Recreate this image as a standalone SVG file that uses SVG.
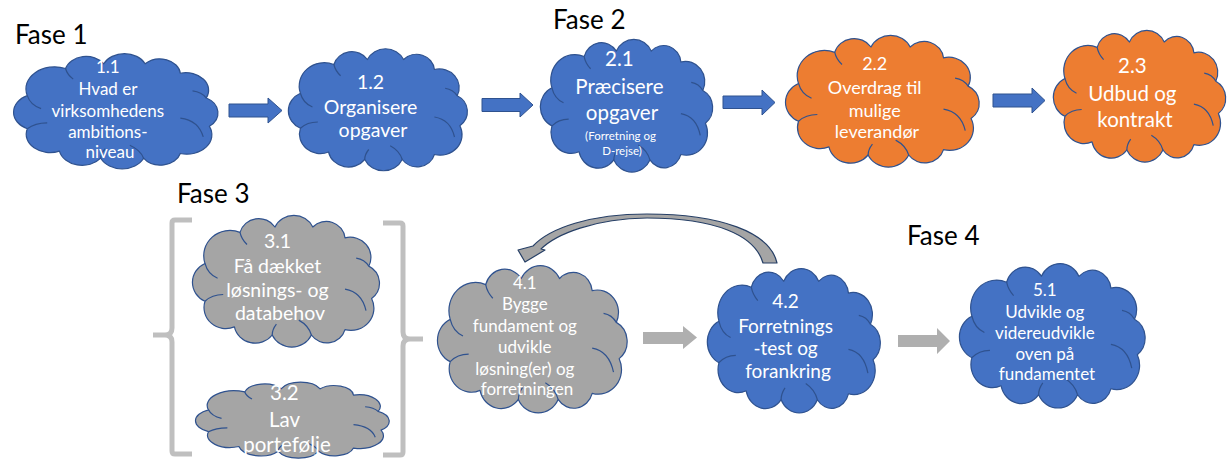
<svg xmlns="http://www.w3.org/2000/svg" xmlns:xlink="http://www.w3.org/1999/xlink" width="1231" height="462" viewBox="0 0 1231 462">
  <defs>
    <style>
      .phase { font-family: Lato, "Open Sans", "Liberation Sans", sans-serif; font-size: 26px; fill: #000; }
      .lbl { font-family: Lato, "Open Sans", "Liberation Sans", sans-serif; fill: #fff; text-anchor: middle; }
      .cloud-body { stroke: #2f528f; stroke-width: 1.2; stroke-linejoin: round; }
      .crease { fill: none; stroke: #2f528f; stroke-width: 1.2; }
      .blue { fill: #4472c4; }
      .orange { fill: #ed7d31; }
      .grey { fill: #a5a5a5; }
      .arrow-blue { fill: #4472c4; stroke: #2f528f; stroke-width: 1; }
      .arrow-grey { fill: #afafaf; }
      .bracket { fill: none; stroke: #bfbfbf; stroke-width: 5; stroke-linejoin: round; }
      .loop { fill: #a5a5a5; stroke: #263f66; stroke-width: 1.2; stroke-linejoin: round; }
    </style>
    <!-- cloud outline in a 140 x 100 unit box -->
    <path id="cloud-outline" vector-effect="non-scaling-stroke"
          d="M 10 37 A 18.7 18.7 0 0 1 35 14 A 13.9 13.9 0 0 1 60 10 A 14.9 14.9 0 0 1 87 10 A 13.4 13.4 0 0 1 110 18 A 14.9 14.9 0 0 1 127 39 A 14.3 14.3 0 0 1 129 63 A 16.4 16.4 0 0 1 110 86 A 13.4 13.4 0 0 1 86 90 A 15.4 15.4 0 0 1 58 90 A 15.2 15.2 0 0 1 31 84 A 15.6 15.6 0 0 1 10 65 A 15.4 15.4 0 0 1 10 37 Z"/>
    <g id="cloud-creases">
      <path class="crease" vector-effect="non-scaling-stroke" d="M 10 37 Q 12 45 19 48"/>
      <path class="crease" vector-effect="non-scaling-stroke" d="M 10 65 Q 15 60 23 60"/>
      <path class="crease" vector-effect="non-scaling-stroke" d="M 35 14 Q 36 19 40 23"/>
      <path class="crease" vector-effect="non-scaling-stroke" d="M 110 56 Q 122 58 125 72"/>
      <path class="crease" vector-effect="non-scaling-stroke" d="M 86 90 Q 84 83 77 79"/>
      <path class="crease" vector-effect="non-scaling-stroke" d="M 58 90 Q 58 86 61 82"/>
      <path class="crease" vector-effect="non-scaling-stroke" d="M 127 39 Q 124 34 118 33"/>
    </g>
  </defs>

  <rect width="1231" height="462" fill="#fff"/>

  <!-- phase headings -->
  <g id="phase-labels">
    <text class="phase" x="15" y="44">Fase 1</text>
    <text class="phase" x="553" y="29">Fase 2</text>
    <text class="phase" x="177" y="203">Fase 3</text>
    <text class="phase" x="907" y="245">Fase 4</text>
  </g>

  <!-- brackets around phase 3 -->
  <g id="phase3-brackets">
    <path class="bracket" d="M 192 220 L 175 220 Q 172 220 172 223 L 172 328 Q 172 335 165 335 L 153 335 M 165 335 Q 172 335 172 342 L 172 451 Q 172 454 175 454 L 192 454"/>
    <path class="bracket" d="M 383 223 L 400 223 Q 403 223 403 226 L 403 332 Q 403 339 410 339 L 423 339 M 410 339 Q 403 339 403 346 L 403 452 Q 403 455 400 455 L 383 455"/>
  </g>

  <!-- connectors -->
  <g id="connectors">
    <polygon class="arrow-blue" points="229,104 268,104 268,98 282,110.5 268,123 268,117 229,117"/>
    <polygon class="arrow-blue" points="482,98.5 520,98.5 520,93 533,105 520,117 520,111.5 482,111.5"/>
    <polygon class="arrow-blue" points="723,96 762,96 762,90 775,102.5 762,115 762,108.5 723,108.5"/>
    <polygon class="arrow-blue" points="993,94 1032,94 1032,88 1045,100.5 1032,113 1032,107 993,107"/>
    <polygon class="arrow-grey" points="643,332 683,332 683,326 697,337.5 683,349 683,344 643,344"/>
    <polygon class="arrow-grey" points="898,335 937,335 937,328 950,341 937,354 937,347 898,347"/>
    <path class="loop" d="M 777 263 C 770 232, 720 214, 647 214 C 590 214, 550 228, 533 246 L 518 250 L 525 262 L 545 250 L 541 249 C 556 234, 595 218.5, 647 218 C 715 218, 755 235, 763 263 Z"/>
  </g>

  <!-- 1.1 -->
  <g id="node-1-1">
    <g transform="translate(12 52) scale(1.53 1.18)">
      <use xlink:href="#cloud-outline" href="#cloud-outline" class="cloud-body blue"/>
      <use xlink:href="#cloud-creases" href="#cloud-creases"/>
    </g>
    <text class="lbl" font-size="17">
      <tspan x="110" y="73">1.1</tspan>
      <tspan x="110" y="95">Hvad er</tspan>
      <tspan x="110" y="117">virksomhedens</tspan>
      <tspan x="110" y="138">ambitions-</tspan>
      <tspan x="110" y="158">niveau</tspan>
    </text>
  </g>

  <!-- 1.2 -->
  <g id="node-1-2">
    <g transform="translate(287 47) scale(1.34 1.25)">
      <use xlink:href="#cloud-outline" href="#cloud-outline" class="cloud-body blue"/>
      <use xlink:href="#cloud-creases" href="#cloud-creases"/>
    </g>
    <text class="lbl" font-size="19.5">
      <tspan x="373" y="89">1.2</tspan>
      <tspan x="373" y="114">Organisere</tspan>
      <tspan x="373" y="137">opgaver</tspan>
    </text>
  </g>

  <!-- 2.1 -->
  <g id="node-2-1">
    <g transform="translate(539 37.5) scale(1.29 1.36)">
      <use xlink:href="#cloud-outline" href="#cloud-outline" class="cloud-body blue"/>
      <use xlink:href="#cloud-creases" href="#cloud-creases"/>
    </g>
    <text class="lbl" font-size="20.5">
      <tspan x="622" y="66">2.1</tspan>
      <tspan x="622" y="94">Præcisere</tspan>
      <tspan x="622" y="120">opgaver</tspan>
    </text>
    <text class="lbl" font-size="11.5">
      <tspan x="622" y="140">(Forretning og</tspan>
      <tspan x="622" y="155">D-rejse)</tspan>
    </text>
  </g>

  <!-- 2.2 -->
  <g id="node-2-2">
    <g transform="translate(784 33.5) scale(1.45 1.35)">
      <use xlink:href="#cloud-outline" href="#cloud-outline" class="cloud-body orange"/>
      <use xlink:href="#cloud-creases" href="#cloud-creases"/>
    </g>
    <text class="lbl" font-size="18">
      <tspan x="877" y="70">2.2</tspan>
      <tspan x="877" y="94">Overdrag til</tspan>
      <tspan x="877" y="117">mulige</tspan>
      <tspan x="877" y="138">leverandør</tspan>
    </text>
  </g>

  <!-- 2.3 -->
  <g id="node-2-3">
    <g transform="translate(1052 28.5) scale(1.29 1.35)">
      <use xlink:href="#cloud-outline" href="#cloud-outline" class="cloud-body orange"/>
      <use xlink:href="#cloud-creases" href="#cloud-creases"/>
    </g>
    <text class="lbl" font-size="20.5">
      <tspan x="1135" y="73">2.3</tspan>
      <tspan x="1135" y="101">Udbud og</tspan>
      <tspan x="1135" y="127">kontrakt</tspan>
    </text>
  </g>

  <!-- 3.1 -->
  <g id="node-3-1">
    <g transform="translate(191 213.5) scale(1.4 1.35)">
      <use xlink:href="#cloud-outline" href="#cloud-outline" class="cloud-body grey"/>
      <use xlink:href="#cloud-creases" href="#cloud-creases"/>
    </g>
    <text class="lbl" font-size="19.5">
      <tspan x="280" y="248">3.1</tspan>
      <tspan x="280" y="273">Få dækket</tspan>
      <tspan x="280" y="297">løsnings- og</tspan>
      <tspan x="280" y="320">databehov</tspan>
    </text>
  </g>

  <!-- 3.2 -->
  <g id="node-3-2">
    <g transform="translate(194 381) scale(1.45 0.78)">
      <use xlink:href="#cloud-outline" href="#cloud-outline" class="cloud-body grey"/>
      <use xlink:href="#cloud-creases" href="#cloud-creases"/>
    </g>
    <text class="lbl" font-size="20.5">
      <tspan x="287" y="400">3.2</tspan>
      <tspan x="287" y="427">Lav</tspan>
      <tspan x="287" y="452">portefølje</tspan>
    </text>
  </g>

  <!-- 4.1 -->
  <g id="node-4-1">
    <g transform="translate(436 263.5) scale(1.42 1.51)">
      <use xlink:href="#cloud-outline" href="#cloud-outline" class="cloud-body grey"/>
      <use xlink:href="#cloud-creases" href="#cloud-creases"/>
    </g>
    <text class="lbl" font-size="17">
      <tspan x="527" y="289">4.1</tspan>
      <tspan x="527" y="310">Bygge</tspan>
      <tspan x="527" y="332">fundament og</tspan>
      <tspan x="527" y="353">udvikle</tspan>
      <tspan x="527" y="375">løsning(er) og</tspan>
      <tspan x="527" y="395">forretningen</tspan>
    </text>
  </g>

  <!-- 4.2 -->
  <g id="node-4-2">
    <g transform="translate(706 266.5) scale(1.295 1.48)">
      <use xlink:href="#cloud-outline" href="#cloud-outline" class="cloud-body blue"/>
      <use xlink:href="#cloud-creases" href="#cloud-creases"/>
    </g>
    <text class="lbl" font-size="19">
      <tspan x="788" y="308">4.2</tspan>
      <tspan x="788" y="333">Forretnings</tspan>
      <tspan x="788" y="355">-test og</tspan>
      <tspan x="788" y="378">forankring</tspan>
    </text>
  </g>

  <!-- 5.1 -->
  <g id="node-5-1">
    <g transform="translate(958 261.5) scale(1.39 1.48)">
      <use xlink:href="#cloud-outline" href="#cloud-outline" class="cloud-body blue"/>
      <use xlink:href="#cloud-creases" href="#cloud-creases"/>
    </g>
    <text class="lbl" font-size="17">
      <tspan x="1047" y="296">5.1</tspan>
      <tspan x="1047" y="318">Udvikle og</tspan>
      <tspan x="1047" y="339">videreudvikle</tspan>
      <tspan x="1047" y="360">oven på</tspan>
      <tspan x="1047" y="380">fundamentet</tspan>
    </text>
  </g>
</svg>
